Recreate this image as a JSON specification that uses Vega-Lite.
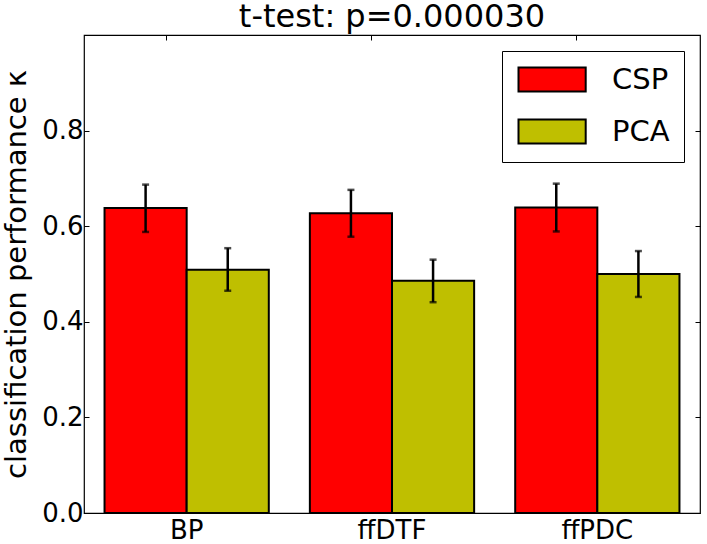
{
  "$schema": "https://vega.github.io/schema/vega-lite/v6.json",
  "width": 616,
  "height": 478,
  "autosize": {"type": "none"},
  "padding": {"left": 84, "top": 35, "right": 7, "bottom": 31},
  "background": "white",
  "config": {
    "font": "DejaVu Sans",
    "view": {"stroke": "black", "strokeWidth": 1.2},
    "axis": {"grid": false, "domain": false, "tickColor": "black", "labelColor": "black", "titleColor": "black", "labelFontWeight": "normal", "titleFontWeight": "normal"}
  },
  "title": {"text": "t-test: p=0.000030", "fontSize": 32, "fontWeight": "normal", "offset": 1, "anchor": "middle", "color": "black", "font": "DejaVu Sans"},
  "data": {
    "values": [
      {"feature": "BP", "method": "CSP", "kappa": 0.638, "lo": 0.588, "hi": 0.687},
      {"feature": "BP", "method": "PCA", "kappa": 0.509, "lo": 0.465, "hi": 0.554},
      {"feature": "ffDTF", "method": "CSP", "kappa": 0.627, "lo": 0.578, "hi": 0.676},
      {"feature": "ffDTF", "method": "PCA", "kappa": 0.486, "lo": 0.441, "hi": 0.530},
      {"feature": "ffPDC", "method": "CSP", "kappa": 0.639, "lo": 0.589, "hi": 0.689},
      {"feature": "ffPDC", "method": "PCA", "kappa": 0.500, "lo": 0.452, "hi": 0.548}
    ]
  },
  "resolve": {"axis": {"x": "independent", "y": "independent"}},
  "layer": [
    {
      "mark": {"type": "bar", "stroke": "black", "strokeWidth": 2},
      "encoding": {
        "x": {
          "field": "feature", "type": "nominal", "sort": ["BP", "ffDTF", "ffPDC"],
          "scale": {"paddingInner": 0.2, "paddingOuter": 0.1},
          "axis": {"title": null, "labelAngle": 0, "labelFontSize": 26, "tickSize": -5, "tickWidth": 1, "labelPadding": 9, "bandPosition": 0.375}
        },
        "xOffset": {"field": "method", "type": "nominal", "sort": ["CSP", "PCA"]},
        "y": {"field": "kappa", "type": "quantitative", "scale": {"domain": [0, 1], "nice": false},
          "title": "classification performance κ",
          "axis": {"values": [0, 0.2, 0.4, 0.6, 0.8], "format": ".1f", "labelFontSize": 26, "titleFontSize": 29, "tickSize": -5, "tickWidth": 1, "labelPadding": 6, "titlePadding": 10}},
        "fill": {"field": "method", "type": "nominal",
          "scale": {"domain": ["CSP", "PCA"], "range": ["#ff0000", "#bfbf00"]},
          "legend": {"title": null, "orient": "top-right", "offset": 16, "padding": 14, "strokeColor": "black", "fillColor": "white", "cornerRadius": 0,
            "symbolType": "M-1,-1H4.6V1H-1Z", "symbolSize": 576, "symbolStrokeColor": "black", "symbolStrokeWidth": 2, "symbolOpacity": 1,
            "labelFontSize": 29, "labelOffset": 67, "labelColor": "black", "rowPadding": 19, "labelFont": "DejaVu Sans"}}
      }
    },
    {
      "mark": {"type": "rule", "strokeWidth": 2.5, "color": "black"},
      "encoding": {
        "x": {
          "field": "feature", "type": "nominal", "sort": ["BP", "ffDTF", "ffPDC"],
          "axis": {"orient": "top", "title": null, "labels": false, "tickSize": -5, "tickWidth": 1, "bandPosition": 0.375}
        },
        "xOffset": {"field": "method", "type": "nominal", "sort": ["CSP", "PCA"]},
        "y": {"field": "lo", "type": "quantitative",
          "axis": {"orient": "right", "title": null, "labels": false, "values": [0, 0.2, 0.4, 0.6, 0.8], "tickSize": -5, "tickWidth": 1}},
        "y2": {"field": "hi"}
      }
    },
    {
      "mark": {"type": "tick", "orient": "horizontal", "size": 7, "thickness": 2.5, "color": "black"},
      "encoding": {
        "x": {"field": "feature", "type": "nominal", "sort": ["BP", "ffDTF", "ffPDC"], "axis": null},
        "xOffset": {"field": "method", "type": "nominal", "sort": ["CSP", "PCA"]},
        "y": {"field": "lo", "type": "quantitative", "axis": null}
      }
    },
    {
      "mark": {"type": "tick", "orient": "horizontal", "size": 7, "thickness": 2.5, "color": "black"},
      "encoding": {
        "x": {"field": "feature", "type": "nominal", "sort": ["BP", "ffDTF", "ffPDC"], "axis": null},
        "xOffset": {"field": "method", "type": "nominal", "sort": ["CSP", "PCA"]},
        "y": {"field": "hi", "type": "quantitative", "axis": null}
      }
    }
  ]
}
